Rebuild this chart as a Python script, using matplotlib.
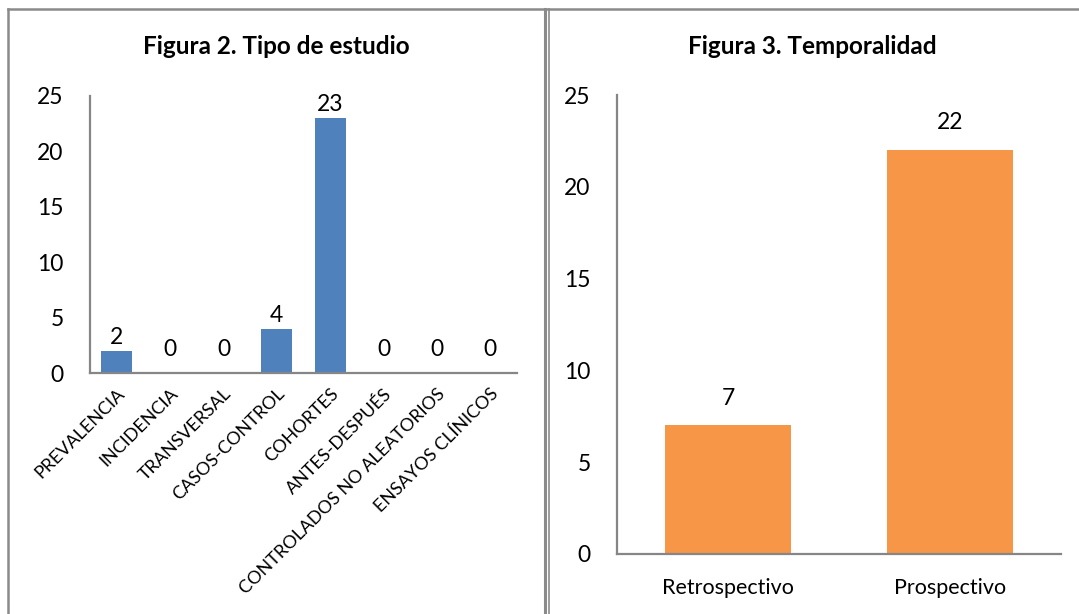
import matplotlib
matplotlib.use("Agg")
import matplotlib.pyplot as plt
from matplotlib.lines import Line2D

# data
tipos = ["PREVALENCIA", "INCIDENCIA", "TRANSVERSAL", "CASOS-CONTROL", "COHORTES",
         "ANTES-DESPUÉS", "CONTROLADOS NO ALEATORIOS", "ENSAYOS CLÍNICOS"]
n_tipos = [2, 0, 0, 4, 23, 0, 0, 0]
temporalidad = ["Retrospectivo", "Prospectivo"]
n_temp = [7, 22]
yticks = [0, 5, 10, 15, 20, 25]

plt.rcParams['font.family'] = ['Lato', 'DejaVu Sans']
W, H = 1079, 614
fig = plt.figure(figsize=(W / 100, H / 100), dpi=100)

GRAY = "#868686"
BLUE = "#4F81BD"
ORANGE = "#F79646"
NUM = 16.5

def style(ax):
    for s in ["top", "right"]:
        ax.spines[s].set_visible(False)
    for s in ["left", "bottom"]:
        ax.spines[s].set_color(GRAY)
        ax.spines[s].set_linewidth(1.6)
    ax.set_ylim(0, 25)
    ax.set_yticks(yticks)
    ax.tick_params(axis="y", length=0, pad=19, labelsize=NUM)
    ax.tick_params(axis="x", length=0)

# Figura 2
ax1 = fig.add_axes([90 / W, 1 - 373 / H, 427 / W, 277 / H])
x1 = range(len(tipos))
ax1.bar(x1, n_tipos, width=0.58, color=BLUE)
ax1.set_xlim(-0.5, len(tipos) - 0.5)
style(ax1)
ax1.set_xticks(list(x1))
ax1.set_xticklabels(tipos, rotation=45, ha="right", rotation_mode="anchor", fontsize=13)
ax1.tick_params(axis="x", pad=9)
for xi, v in zip(x1, n_tipos):
    off = 9 if v == 0 else 2
    ax1.annotate(str(v), (xi, v), xytext=(0, off), textcoords="offset points",
                 ha="center", va="bottom", fontsize=NUM)

# Figura 3
ax2 = fig.add_axes([617 / W, 1 - 554 / H, 444 / W, 459 / H])
x2 = range(len(temporalidad))
ax2.bar(x2, n_temp, width=0.57, color=ORANGE)
ax2.set_xlim(-0.5, len(temporalidad) - 0.5)
style(ax2)
ax2.set_xticks(list(x2))
ax2.set_xticklabels(temporalidad, fontsize=15.5)
ax2.tick_params(axis="x", pad=17)
for xi, v in zip(x2, n_temp):
    ax2.annotate(str(v), (xi, v), xytext=(0, 12), textcoords="offset points",
                 ha="center", va="bottom", fontsize=NUM)

# titles
fig.text(276 / W, 1 - 47 / H, "Figura 2. Tipo de estudio", ha="center", va="center",
         fontsize=17.5, fontweight="bold")
fig.text(812 / W, 1 - 47 / H, "Figura 3. Temporalidad", ha="center", va="center",
         fontsize=17.5, fontweight="bold")

# panel borders
def fline(xs, ys, lw=1.8):
    fig.add_artist(Line2D([x / W for x in xs], [1 - y / H for y in ys],
                          color="#8a8a8a", lw=lw, transform=fig.transFigure))

fline([7.5, 7.5], [9, 614])
fline([7.5, 1079], [9, 9])
fline([545, 545], [9, 614], lw=2.2)
fline([548.5, 548.5], [9, 614], lw=1.2)

fig.savefig("out.png", dpi=100)
